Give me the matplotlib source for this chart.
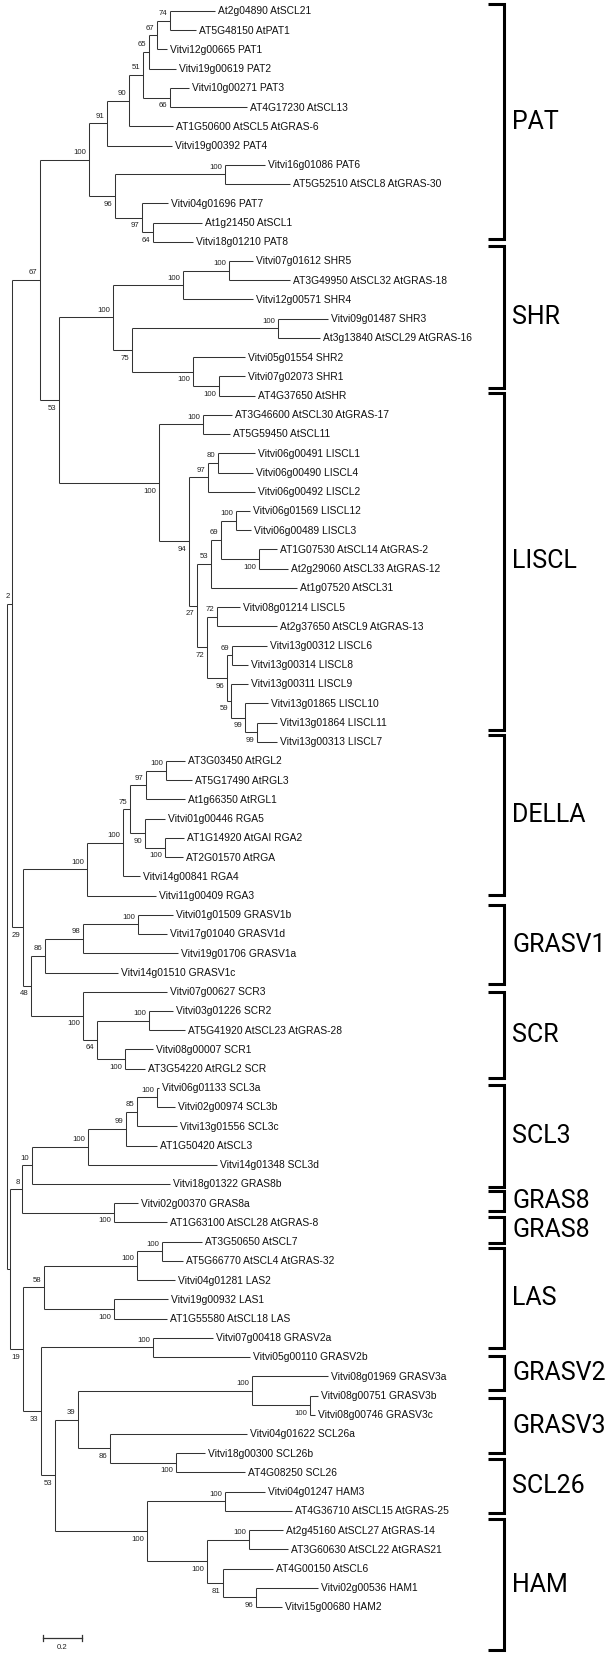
import matplotlib
matplotlib.use("Agg")
import matplotlib.pyplot as plt

# ---------------- data ----------------
# leaves, top to bottom; depth = distance from the root (branch length units)
leaf_names = [
    "At2g04890 AtSCL21", "AT5G48150 AtPAT1", "Vitvi12g00665 PAT1", "Vitvi19g00619 PAT2",
    "Vitvi10g00271 PAT3", "AT4G17230 AtSCL13", "AT1G50600 AtSCL5 AtGRAS-6", "Vitvi19g00392 PAT4",
    "Vitvi16g01086 PAT6", "AT5G52510 AtSCL8 AtGRAS-30", "Vitvi04g01696 PAT7", "At1g21450 AtSCL1",
    "Vitvi18g01210 PAT8",
    "Vitvi07g01612 SHR5", "AT3G49950 AtSCL32 AtGRAS-18", "Vitvi12g00571 SHR4", "Vitvi09g01487 SHR3",
    "At3g13840 AtSCL29 AtGRAS-16", "Vitvi05g01554 SHR2", "Vitvi07g02073 SHR1", "AT4G37650 AtSHR",
    "AT3G46600 AtSCL30 AtGRAS-17", "AT5G59450 AtSCL11", "Vitvi06g00491 LISCL1", "Vitvi06g00490 LISCL4",
    "Vitvi06g00492 LISCL2", "Vitvi06g01569 LISCL12", "Vitvi06g00489 LISCL3",
    "AT1G07530 AtSCL14 AtGRAS-2", "At2g29060 AtSCL33 AtGRAS-12", "At1g07520 AtSCL31",
    "Vitvi08g01214 LISCL5", "At2g37650 AtSCL9 AtGRAS-13", "Vitvi13g00312 LISCL6",
    "Vitvi13g00314 LISCL8", "Vitvi13g00311 LISCL9", "Vitvi13g01865 LISCL10",
    "Vitvi13g01864 LISCL11", "Vitvi13g00313 LISCL7",
    "AT3G03450 AtRGL2", "AT5G17490 AtRGL3", "At1g66350 AtRGL1", "Vitvi01g00446 RGA5",
    "AT1G14920 AtGAI RGA2", "AT2G01570 AtRGA", "Vitvi14g00841 RGA4", "Vitvi11g00409 RGA3",
    "Vitvi01g01509 GRASV1b", "Vitvi17g01040 GRASV1d", "Vitvi19g01706 GRASV1a", "Vitvi14g01510 GRASV1c",
    "Vitvi07g00627 SCR3", "Vitvi03g01226 SCR2", "AT5G41920 AtSCL23 AtGRAS-28", "Vitvi08g00007 SCR1",
    "AT3G54220 AtRGL2 SCR",
    "Vitvi06g01133 SCL3a", "Vitvi02g00974 SCL3b", "Vitvi13g01556 SCL3c", "AT1G50420 AtSCL3",
    "Vitvi14g01348 SCL3d", "Vitvi18g01322 GRAS8b", "Vitvi02g00370 GRAS8a", "AT1G63100 AtSCL28 AtGRAS-8",
    "AT3G50650 AtSCL7", "AT5G66770 AtSCL4 AtGRAS-32", "Vitvi04g01281 LAS2", "Vitvi19g00932 LAS1",
    "AT1G55580 AtSCL18 LAS",
    "Vitvi07g00418 GRASV2a", "Vitvi05g00110 GRASV2b", "Vitvi08g01969 GRASV3a", "Vitvi08g00751 GRASV3b",
    "Vitvi08g00746 GRASV3c", "Vitvi04g01622 SCL26a", "Vitvi18g00300 SCL26b", "AT4G08250 SCL26",
    "Vitvi04g01247 HAM3", "AT4G36710 AtSCL15 AtGRAS-25", "At2g45160 AtSCL27 AtGRAS-14",
    "AT3G60630 AtSCL22 AtGRAS21", "AT4G00150 AtSCL6", "Vitvi02g00536 HAM1", "Vitvi15g00680 HAM2",
]
leaf_depth = [
    1.067, 0.969, 0.821, 0.867, 0.933, 1.231, 0.851, 0.846, 1.323, 1.451, 0.826, 1.000, 0.954,
    1.262, 1.451, 1.262, 1.646, 1.605, 1.221, 1.221, 1.272,
    1.154, 1.144, 1.272, 1.262, 1.272, 1.246, 1.251, 1.385, 1.441, 1.487, 1.195, 1.385,
    1.333, 1.236, 1.236, 1.338, 1.385, 1.385,
    0.913, 0.949, 0.913, 0.810, 0.908, 0.903, 0.682, 0.764,
    0.851, 0.821, 0.877, 0.569,
    0.821, 0.851, 0.913, 0.749, 0.708,
    0.779, 0.862, 0.872, 0.769, 1.077, 0.836, 0.672, 0.821,
    1.000, 0.903, 0.862, 0.826, 0.821,
    1.056, 1.246, 1.646, 1.595, 1.579, 1.231, 1.015, 1.221,
    1.323, 1.462, 1.415, 1.441, 1.364, 1.595, 1.410,
]
leaf_parent = [
    "A", "A", "B", "C", "E", "E", "F", "G", "J", "J", "K", "L", "L",
    "O1a", "O1a", "O1", "O2a", "O2a", "O2b", "O2c", "O2c",
    "L1", "L1", "L3a", "L3a", "L3", "L5b", "L5b", "L5c", "L5c", "L5", "L6a", "L6a",
    "L7a", "L7a", "L8", "L9", "L10", "L10",
    "D3a", "D3a", "D3", "D4", "D5", "D5", "D1", "Dr",
    "G3", "G3", "G2", "G1",
    "Sr", "S2", "S2", "S3", "S3",
    "C3", "C3", "C2", "C1", "C0", "T", "E8", "E8",
    "V1a", "V1a", "V1", "V2", "V2",
    "GV2", "GV2", "GV3", "GV3b", "GV3b", "SC26", "SC26b", "SC26b",
    "H1", "H1", "H3", "H3", "H4", "H5", "H5",
]

# internal nodes
node_names = [
    "root", "P", "M", "H", "G", "F", "D", "C", "B", "A", "E", "I", "J", "K", "L",
    "N", "O", "O1", "O1a", "O2", "O2a", "O2b", "O2c",
    "Lr", "L1", "L2", "L3", "L3a", "L4", "L5", "L5a", "L5b", "L5c",
    "L6", "L6a", "L7", "L7a", "L8", "L9", "L10",
    "Q", "Dr", "D1", "D2", "D3", "D3a", "D4", "D5",
    "Z", "G1", "G2", "G3", "Sr", "S1", "S2", "S3",
    "X", "S", "T", "C0", "C1", "C2", "C3", "E8",
    "U", "V", "V1", "V1a", "V2", "W", "GV2", "W1", "W2", "GV3", "GV3b",
    "SC26", "SC26b", "H0", "H1", "H2", "H3", "H4", "H5",
]
node_parent = [
    None, "root", "P", "M", "H", "G", "F", "D", "C", "B", "D", "H", "I", "I", "K",
    "M", "N", "O", "O1", "O", "O2", "O2", "O2b",
    "N", "Lr", "Lr", "L2", "L3", "L2", "L4", "L5", "L5a", "L5a",
    "L4", "L6", "L6", "L7", "L7", "L8", "L9",
    "P", "Q", "Dr", "D1", "D2", "D3", "D2", "D4",
    "Q", "Z", "G1", "G2", "Z", "Sr", "S1", "S1",
    "root", "X", "S", "T", "C0", "C1", "C2", "S",
    "X", "U", "V", "V1", "V", "U", "W", "W", "W1", "W2", "GV3",
    "W2", "SC26", "W1", "H0", "H0", "H2", "H2", "H4",
]
node_depth = [
    0.0, 0.026, 0.169, 0.421, 0.513, 0.626, 0.697, 0.728, 0.769, 0.836, 0.836, 0.554, 1.118, 0.692, 0.749,
    0.267, 0.544, 0.903, 1.138, 0.641, 1.390, 0.954, 1.087,
    0.779, 1.005, 0.933, 1.031, 1.082, 0.974, 1.046, 1.097, 1.174, 1.292,
    1.026, 1.077, 1.128, 1.154, 1.149, 1.221, 1.282,
    0.082, 0.410, 0.595, 0.631, 0.713, 0.815, 0.708, 0.810,
    0.123, 0.195, 0.390, 0.672, 0.390, 0.462, 0.728, 0.605,
    0.013, 0.077, 0.128, 0.415, 0.610, 0.667, 0.769, 0.549,
    0.082, 0.190, 0.667, 0.795, 0.549, 0.174, 0.749, 0.246, 0.364, 1.256, 1.554,
    0.528, 0.867, 0.718, 1.118, 1.026, 1.241, 1.108, 1.277,
]
node_boot = [
    None, 2, 67, 100, 91, 90, 51, 65, 67, 74, 66, 96, 100, 97, 64,
    53, 100, 100, 100, 75, 100, 100, 100,
    100, 100, 94, 97, 80, 27, 53, 69, 100, 100,
    72, 72, 96, 69, 59, 99, 99,
    29, 100, 100, 75, 97, 100, 90, 100,
    48, 86, 98, 100, 100, 64, 100, 100,
    None, 8, 10, 100, 99, 85, 100, 100,
    19, 58, 100, 100, 100, 33, 100, 53, 39, 100, 100,
    86, 100, 100, 100, 100, 100, 81, 96,
]

# clade brackets (in leaf-row units)
clade_names = ["PAT", "SHR", "LISCL", "DELLA", "GRASV1", "SCR", "SCL3", "GRAS8", "GRAS8",
               "LAS", "GRASV2", "GRASV3", "SCL26", "HAM"]
clade_top = [-0.36, 12.22, 19.86, 37.65, 46.49, 51.01, 55.85, 61.36, 62.72,
             64.33, 69.94, 72.13, 75.30, 78.42]
clade_bottom = [11.86, 19.60, 37.39, 45.97, 50.60, 55.49, 61.15, 62.42, 64.07,
                69.53, 71.71, 74.99, 78.11, 85.25]

scale_len = 0.2

# ---------------- drawing ----------------
PX = 195.0     # pixels per branch-length unit
ROW = 19.23    # pixels per leaf row

fig = plt.figure(figsize=(6.14, 16.53), dpi=100)
ax = fig.add_axes([0, 0, 1, 1])
ax.set_xlim(-7 / PX, 607 / PX)
ax.set_ylim((1653 - 11) / ROW, -11 / ROW)
ax.axis("off")

children = {n: [] for n in node_names}
for i, p in enumerate(leaf_parent):
    children[p].append(("leaf", i))
for n, p in zip(node_names, node_parent):
    if p is not None:
        children[p].append(("node", n))
ndepth = dict(zip(node_names, node_depth))
nparent = dict(zip(node_names, node_parent))
nboot = dict(zip(node_names, node_boot))

ycache = {}


def ypos(item):
    kind, key = item
    if kind == "leaf":
        return float(key)
    if key not in ycache:
        ys = [ypos(c) for c in children[key]]
        ycache[key] = (min(ys) + max(ys)) / 2
    return ycache[key]


def depth(item):
    kind, key = item
    return leaf_depth[key] if kind == "leaf" else ndepth[key]


lc = "#333333"
for n in node_names:
    ys = [ypos(c) for c in children[n]]
    x0 = ndepth[n]
    ax.plot([x0, x0], [min(ys), max(ys)], color=lc, lw=0.75, solid_capstyle="butt")
    for c in children[n]:
        ax.plot([x0, depth(c)], [ypos(c), ypos(c)], color=lc, lw=0.75, solid_capstyle="butt")

# bootstrap values
for n in node_names:
    b = nboot[n]
    if b is None or nparent[n] is None:
        continue
    yn = ypos(("node", n))
    yp = ypos(("node", nparent[n]))
    dy = -0.36 if yn < yp else 0.42
    ax.text(ndepth[n] - 2.5 / PX, yn + dy, str(b), ha="right", va="center",
            fontsize=5.6, color="#222222", family=["Liberation Sans", "DejaVu Sans"])

# leaf names
for i, name in enumerate(leaf_names):
    ax.text(leaf_depth[i] + 3 / PX, i + 0.02, name, ha="left", va="center",
            fontsize=7.4, color="#111111", family=["Liberation Sans", "DejaVu Sans"])

# clade brackets
xb = (504 - 7) / PX
xt = (488 - 7) / PX
for name, t, b in zip(clade_names, clade_top, clade_bottom):
    ax.plot([xt, xb, xb, xt], [t, t, b, b], color="black", lw=2.2,
            solid_joinstyle="miter", solid_capstyle="butt")
    ax.text(xb + 8 / PX, (t + b) / 2, name, ha="left", va="center", fontsize=18,
            color="black", family=["Roboto", "Liberation Sans", "DejaVu Sans"])

# scale bar
sx = (43 - 7) / PX
sy = (1638 - 11) / ROW
ax.plot([sx, sx + scale_len], [sy, sy], color=lc, lw=0.9)
for xx in (sx, sx + scale_len):
    ax.plot([xx, xx], [sy - 0.17, sy + 0.17], color=lc, lw=0.9)
ax.text(sx + scale_len / 2, sy + 0.48, "0.2", ha="center", va="center", fontsize=5.6,
        color="#222222", family=["Liberation Sans", "DejaVu Sans"])

fig.savefig("out.png", dpi=100)
